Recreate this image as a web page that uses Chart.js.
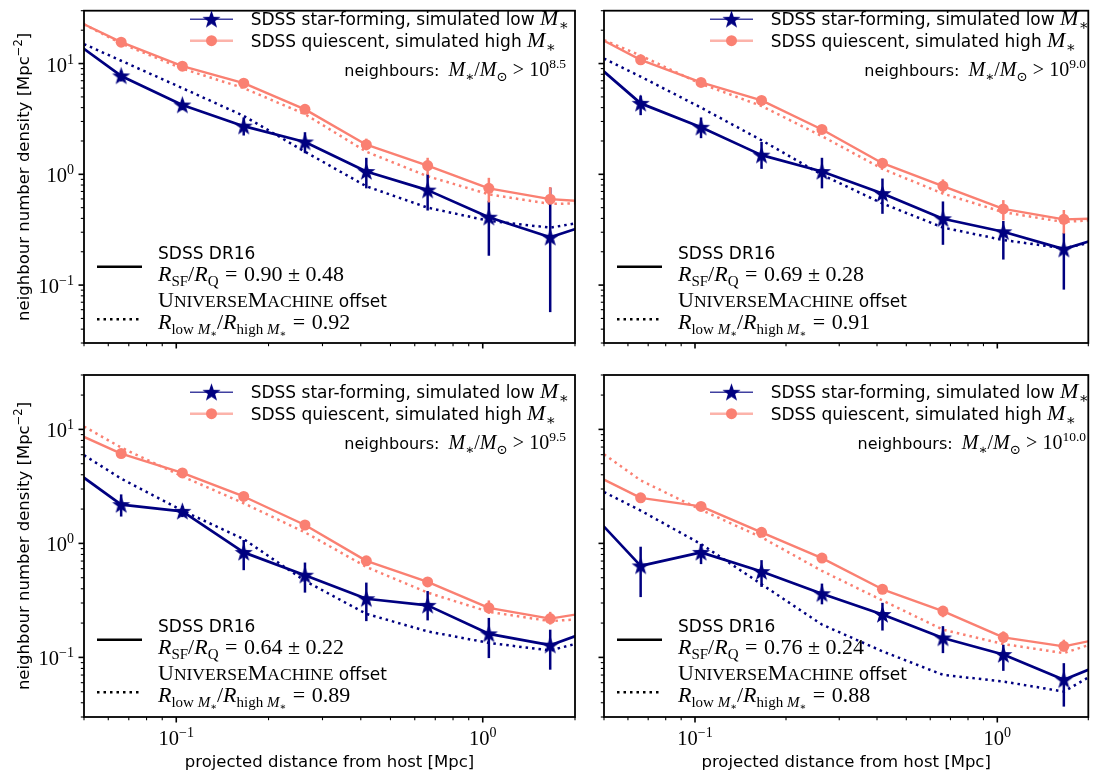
<!DOCTYPE html>
<html lang="en">
<head>
<meta charset="UTF-8">
<title>Neighbour number density profiles</title>
<script src="https://cdn.jsdelivr.net/npm/chart.js"></script>
<style>
    body { margin: 0; background: #fff; }
    #figure { position: relative; width: 1099px; height: 778px; }
    #figure canvas { position: absolute; left: 0; top: 0; }
</style>
</head>
<body>
<div id="figure">
    <canvas id="panel0" width="1099" height="778"></canvas>
    <canvas id="panel1" width="1099" height="778"></canvas>
    <canvas id="panel2" width="1099" height="778"></canvas>
    <canvas id="panel3" width="1099" height="778"></canvas>
</div>
<script>
// Radial bin centres (Mpc); first and last bin sit just outside the plotted range
const binCentres = [0.0417, 0.0661, 0.1047, 0.166, 0.263, 0.417, 0.661, 1.047, 1.66, 2.63];
// Radii where the UniverseMachine curves are sampled (Mpc)
const modelRadii = [0.05, 0.0661, 0.1047, 0.166, 0.263, 0.417, 0.661, 1.047, 1.66, 2.0];

// neighbour mass cuts, log10(M*/Msun), one per panel
const massCuts = ['8.5', '9.0', '9.5', '10.0'];
const ratioSF = ['0.90', '0.69', '0.64', '0.76'];
const ratioSFErr = ['0.48', '0.28', '0.22', '0.24'];
const ratioUM = ['0.92', '0.91', '0.89', '0.88'];

// SDSS star-forming hosts: density [Mpc^-2] and error bar ends, one row per panel
const sfDensity = [
    [19.6, 7.73, 4.22, 2.72, 1.96, 1.06, 0.72, 0.41, 0.27, 0.41],
    [13.0, 4.37, 2.66, 1.49, 1.06, 0.67, 0.397, 0.303, 0.211, 0.31],
    [5.36, 2.19, 1.91, 0.834, 0.526, 0.327, 0.286, 0.161, 0.128, 0.2],
    [2.35, 0.635, 0.834, 0.566, 0.362, 0.238, 0.148, 0.106, 0.0636, 0.105]
];
const sfLow = [
    [null, 6.9, 3.8, 2.24, 1.55, 0.747, 0.471, 0.184, 0.057, null],
    [null, 3.42, 2.12, 1.12, 0.747, 0.44, 0.231, 0.17, 0.091, null],
    [null, 1.72, 1.7, 0.582, 0.37, 0.208, 0.211, 0.0986, 0.078, null],
    [null, 0.338, 0.658, 0.415, 0.292, 0.172, 0.109, 0.0762, 0.037, null]
];
const sfHigh = [
    [null, 8.6, 4.65, 3.26, 2.40, 1.41, 1.01, 0.577, 0.757, null],
    [null, 5.14, 3.26, 1.96, 1.41, 0.916, 0.569, 0.379, 0.296, null],
    [null, 2.69, 2.12, 1.07, 0.679, 0.453, 0.382, 0.222, 0.175, null],
    [null, 0.935, 0.986, 0.713, 0.444, 0.301, 0.188, 0.129, 0.089, null]
];

// SDSS quiescent hosts
const qDensity = [
    [28.8, 15.6, 9.47, 6.65, 3.86, 1.85, 1.20, 0.747, 0.597, 0.548],
    [20.8, 10.8, 6.75, 4.65, 2.54, 1.26, 0.783, 0.487, 0.392, 0.405],
    [10.7, 6.14, 4.15, 2.58, 1.45, 0.703, 0.459, 0.272, 0.219, 0.267],
    [4.6, 2.51, 2.11, 1.25, 0.743, 0.396, 0.255, 0.15, 0.125, 0.161]
];
const qLow = [
    [null, 15.0, 9.1, 6.35, 3.6, 1.65, 0.99, 0.557, 0.54, null],
    [null, 10.3, 6.45, 4.45, 2.42, 1.18, 0.68, 0.384, 0.292, null],
    [null, 5.9, 3.98, 2.47, 1.39, 0.67, 0.415, 0.241, 0.194, null],
    [null, 2.4, 2.02, 1.19, 0.71, 0.375, 0.225, 0.134, 0.113, null]
];
const qHigh = [
    [null, 16.2, 9.85, 6.95, 4.1, 2.1, 1.41, 0.93, 0.767, null],
    [null, 11.3, 7.05, 4.85, 2.66, 1.34, 0.90, 0.585, 0.476, null],
    [null, 6.4, 4.32, 2.69, 1.51, 0.74, 0.50, 0.316, 0.251, null],
    [null, 2.62, 2.2, 1.31, 0.78, 0.415, 0.282, 0.169, 0.143, null]
];

// UniverseMachine low / high stellar mass hosts
const umLowMass = [
    [15.0, 10.6, 6.0, 3.37, 1.60, 0.78, 0.50, 0.38, 0.33, 0.36],
    [11.1, 7.62, 4.0, 2.03, 0.99, 0.546, 0.331, 0.255, 0.215, 0.239],
    [5.94, 3.70, 1.94, 1.09, 0.469, 0.241, 0.169, 0.134, 0.115, 0.131],
    [2.82, 1.94, 0.986, 0.438, 0.194, 0.113, 0.0703, 0.0614, 0.0501, 0.0667]
];
const umHighMass = [
    [22.6, 15.2, 9.0, 6.0, 3.49, 1.60, 0.96, 0.66, 0.54, 0.547],
    [16.3, 11.8, 6.56, 4.14, 2.21, 1.12, 0.67, 0.455, 0.371, 0.384],
    [10.6, 6.93, 3.87, 2.25, 1.25, 0.622, 0.37, 0.251, 0.208, 0.215],
    [6.05, 3.57, 1.97, 1.13, 0.574, 0.316, 0.175, 0.131, 0.109, 0.128]
];

// axis ticks
const xMajor = [0.1, 1];
const xMajorExp = ['\u22121', '0'];
const xMinor = [0.05, 0.06, 0.07, 0.08, 0.09, 0.2, 0.3, 0.4, 0.5, 0.6, 0.7, 0.8, 0.9, 2];
const yMajor = [0.1, 1, 10];
const yMajorExp = ['\u22121', '0', '1'];
const yMinor = [0.03, 0.04, 0.05, 0.06, 0.07, 0.08, 0.09, 0.2, 0.3, 0.4, 0.5, 0.6, 0.7, 0.8, 0.9,
                2, 3, 4, 5, 6, 7, 8, 9, 20, 30];

const W = 1099, H = 778;
const NAVY = '#000080', SALMON = '#fa8072';
const SANS = '"DejaVu Sans", sans-serif';
const SERIF = '"Liberation Serif", "DejaVu Serif", serif';

// plot boxes of the 2x2 grid
const panelBoxes = [
    { left: 84, top: 2, right: 575, bottom: 343, row: 0, col: 0 },
    { left: 604, top: 2, right: 1095, bottom: 343, row: 0, col: 1 },
    { left: 84, top: 375, right: 575, bottom: 717, row: 1, col: 0 },
    { left: 604, top: 375, right: 1095, bottom: 717, row: 1, col: 1 }
];

function font(size, family, style) {
    return (style ? style + ' ' : '') + size + 'px ' + family;
}
// text runs: [text, font, baseline shift, extra advance]
const sans = (t, s) => [t, font(s || 17, SANS)];
const it = (t, s) => [t, font(s || 22, SERIF, 'italic')];
const rm = (t, s) => [t, font(s || 22, SERIF)];
const sub = (t, style, s) => [t, font(s || 15, SERIF, style), 5];
const gap = w => ['', font(10, SERIF), 0, w];

function drawRich(ctx, x, y, runs, align) {
    let w = 0;
    runs.forEach(r => { ctx.font = r[1]; w += ctx.measureText(r[0]).width + (r[3] || 0); });
    let cx = align === 'right' ? x - w : align === 'center' ? x - w / 2 : x;
    ctx.textAlign = 'left';
    ctx.textBaseline = 'alphabetic';
    runs.forEach(r => {
        ctx.font = r[1];
        ctx.fillText(r[0], cx, y + (r[2] || 0));
        cx += ctx.measureText(r[0]).width + (r[3] || 0);
    });
}

// filled five-pointed star used as the star-forming marker
function makeStar(r, color) {
    const c = document.createElement('canvas');
    const size = Math.ceil(r * 2) + 2;
    c.width = c.height = size;
    const g = c.getContext('2d');
    g.fillStyle = color;
    g.beginPath();
    for (let i = 0; i < 10; i++) {
        const rad = i % 2 ? r * 0.4 : r;
        const a = -Math.PI / 2 + i * Math.PI / 5;
        const px = size / 2 + rad * Math.cos(a), py = size / 2 + 0.6 + rad * Math.sin(a);
        if (i) g.lineTo(px, py); else g.moveTo(px, py);
    }
    g.closePath();
    g.fill();
    return c;
}
const starMarker = makeStar(9.5, NAVY);

function line(ctx, x1, y1, x2, y2) {
    ctx.beginPath();
    ctx.moveTo(x1, y1);
    ctx.lineTo(x2, y2);
    ctx.stroke();
}

// vertical error bars, drawn under each dataset's own line and markers
const errorBars = {
    id: 'errorBars',
    beforeDatasetDraw(chart, args) {
        const ds = chart.data.datasets[args.index];
        if (!ds.errLow) return;
        const { ctx, scales: { x, y } } = chart;
        ctx.save();
        ctx.strokeStyle = ds.borderColor;
        ctx.lineWidth = 2.5;
        ds.data.forEach((p, i) => {
            if (ds.errLow[i] == null) return;
            const px = x.getPixelForValue(p.x);
            line(ctx, px, y.getPixelForValue(ds.errLow[i]), px, y.getPixelForValue(ds.errHigh[i]));
        });
        ctx.restore();
    }
};

// frame, log ticks, tick labels, axis titles and the two legends of a panel
const panelDecor = {
    id: 'panelDecor',
    afterDraw(chart, args, opts) {
        const { ctx, chartArea: a, scales: { x, y } } = chart;
        const k = opts.index;
        const box = panelBoxes[k];
        const dx = box.left - 84, dy = box.top - 2;
        ctx.save();
        ctx.strokeStyle = '#000';
        ctx.fillStyle = '#000';

        ctx.lineWidth = 1.6;
        xMajor.forEach(v => { const p = x.getPixelForValue(v); line(ctx, p, a.bottom, p, a.bottom + 5.5); });
        yMajor.forEach(v => { const p = y.getPixelForValue(v); line(ctx, a.left, p, a.left - 5.5, p); });
        ctx.lineWidth = 1.1;
        xMinor.forEach(v => { const p = x.getPixelForValue(v); line(ctx, p, a.bottom, p, a.bottom + 3.2); });
        yMinor.forEach(v => { const p = y.getPixelForValue(v); line(ctx, a.left, p, a.left - 3.2, p); });
        ctx.lineWidth = 1.8;
        ctx.strokeRect(a.left, a.top, a.right - a.left, a.bottom - a.top);

        if (box.row === 1) {
            xMajor.forEach((v, i) => {
                drawRich(ctx, x.getPixelForValue(v), a.bottom + 28,
                    [['10', font(20.5, SERIF)], [xMajorExp[i], font(14, SERIF), -8]], 'center');
            });
            drawRich(ctx, (a.left + a.right) / 2, 767, [sans('projected distance from host [Mpc]', 16.5)], 'center');
        }
        if (box.col === 0) {
            yMajor.forEach((v, i) => {
                drawRich(ctx, a.left - 10, y.getPixelForValue(v) + 8,
                    [['10', font(20.5, SERIF)], [yMajorExp[i], font(14, SERIF), -8]], 'right');
            });
            ctx.save();
            ctx.translate(29, (a.top + a.bottom) / 2);
            ctx.rotate(-Math.PI / 2);
            drawRich(ctx, 0, 0, [sans('neighbour number density [Mpc', 16.5),
                ['\u22122', font(11.5, SANS), -7], sans(']', 16.5)], 'center');
            ctx.restore();
        }

        // sample legend, upper right
        ctx.lineCap = 'butt';
        ctx.globalAlpha = 0.75;
        ctx.strokeStyle = NAVY;
        ctx.lineWidth = 1.6;
        line(ctx, 190 + dx, 19.3 + dy, 233 + dx, 19.3 + dy);
        ctx.globalAlpha = 0.6;
        ctx.strokeStyle = SALMON;
        ctx.lineWidth = 2.5;
        line(ctx, 190 + dx, 40.7 + dy, 233 + dx, 40.7 + dy);
        ctx.globalAlpha = 1;
        ctx.drawImage(starMarker, 211.5 + dx - starMarker.width / 2, 19.3 + dy - starMarker.height / 2);
        ctx.fillStyle = SALMON;
        ctx.beginPath();
        ctx.arc(211.5 + dx, 40.7 + dy, 5.5, 0, Math.PI * 2);
        ctx.fill();
        ctx.fillStyle = '#000';
        drawRich(ctx, 250.7 + dx, 25 + dy, [sans('SDSS star-forming, simulated low '), it('M'), sub('\u2217')]);
        drawRich(ctx, 250.7 + dx, 46.5 + dy, [sans('SDSS quiescent, simulated high '), it('M'), sub('\u2217')]);
        drawRich(ctx, 566 + dx, 75.5 + dy, [sans('neighbours: ', 16), gap(4), it('M', 20), sub('\u2217', '', 13.5),
            rm('/', 20), it('M', 20), sub('\u2299', '', 13.5), gap(5), rm('>', 20), gap(5), rm('10', 20),
            [massCuts[k], font(13.5, SERIF), -8]], 'right');

        // line-style legend, lower left
        ctx.strokeStyle = '#000';
        ctx.lineWidth = 2.6;
        line(ctx, 97 + dx, 266.7 + dy, 142 + dx, 266.7 + dy);
        ctx.setLineDash([2.5, 4]);
        ctx.lineWidth = 2.5;
        line(ctx, 97 + dx, 319.3 + dy, 142 + dx, 319.3 + dy);
        ctx.setLineDash([]);
        drawRich(ctx, 158 + dx, 258.5 + dy, [sans('SDSS DR16')]);
        drawRich(ctx, 158 + dx, 281 + dy, [it('R'), sub('SF'), rm('/'), it('R'), sub('Q'),
            gap(6.5), rm('='), gap(6.5), rm(ratioSF[k]), gap(5.5), rm('\u00b1'), gap(5.5), rm(ratioSFErr[k])]);
        drawRich(ctx, 158 + dx, 307 + dy, [rm('U'), rm('NIVERSE', 17.5), rm('M'), rm('ACHINE', 17.5), sans(' offset')]);
        drawRich(ctx, 158 + dx, 329 + dy, [it('R'), sub('low '), sub('M', 'italic'),
            ['\u2217', font(10, SERIF), 8], rm('/'), it('R'), sub('high '), sub('M', 'italic'),
            ['\u2217', font(10, SERIF), 8], gap(6.5), rm('='), gap(6.5), rm(ratioUM[k])]);
        ctx.restore();
    }
};

function points(xs, ys) {
    return xs.map((v, i) => ({ x: v, y: ys[i] }));
}

panelBoxes.forEach((box, k) => {
    new Chart(document.getElementById('panel' + k), {
        type: 'line',
        data: {
            datasets: [
                {
                    label: 'SDSS quiescent, simulated high M*',
                    data: points(binCentres, qDensity[k]),
                    errLow: qLow[k], errHigh: qHigh[k],
                    borderColor: SALMON, borderWidth: 2.4,
                    pointRadius: 5.5, pointBackgroundColor: SALMON, pointBorderWidth: 0
                },
                {
                    label: 'SDSS star-forming, simulated low M*',
                    data: points(binCentres, sfDensity[k]),
                    errLow: sfLow[k], errHigh: sfHigh[k],
                    borderColor: NAVY, borderWidth: 2.7,
                    pointStyle: starMarker, pointRadius: 8
                },
                {
                    label: 'UniverseMachine high M*',
                    data: points(modelRadii, umHighMass[k]),
                    borderColor: SALMON, borderWidth: 2.5, borderDash: [2.5, 4],
                    pointRadius: 0
                },
                {
                    label: 'UniverseMachine low M*',
                    data: points(modelRadii, umLowMass[k]),
                    borderColor: NAVY, borderWidth: 2.5, borderDash: [2.5, 4],
                    pointRadius: 0
                }
            ]
        },
        options: {
            responsive: false,
            animation: false,
            devicePixelRatio: 1,
            events: [],
            clip: 0,
            elements: { line: { tension: 0, borderJoinStyle: 'round' } },
            layout: { padding: { left: box.left, top: box.top, right: W - box.right, bottom: H - box.bottom } },
            plugins: {
                legend: { display: false },
                tooltip: { enabled: false },
                panelDecor: { index: k }
            },
            scales: {
                x: { type: 'logarithmic', min: 0.05, max: 2, display: false },
                y: { type: 'logarithmic', min: 0.03, max: 30, display: false }
            }
        },
        plugins: [errorBars, panelDecor]
    });
});
</script>
</body>
</html>
